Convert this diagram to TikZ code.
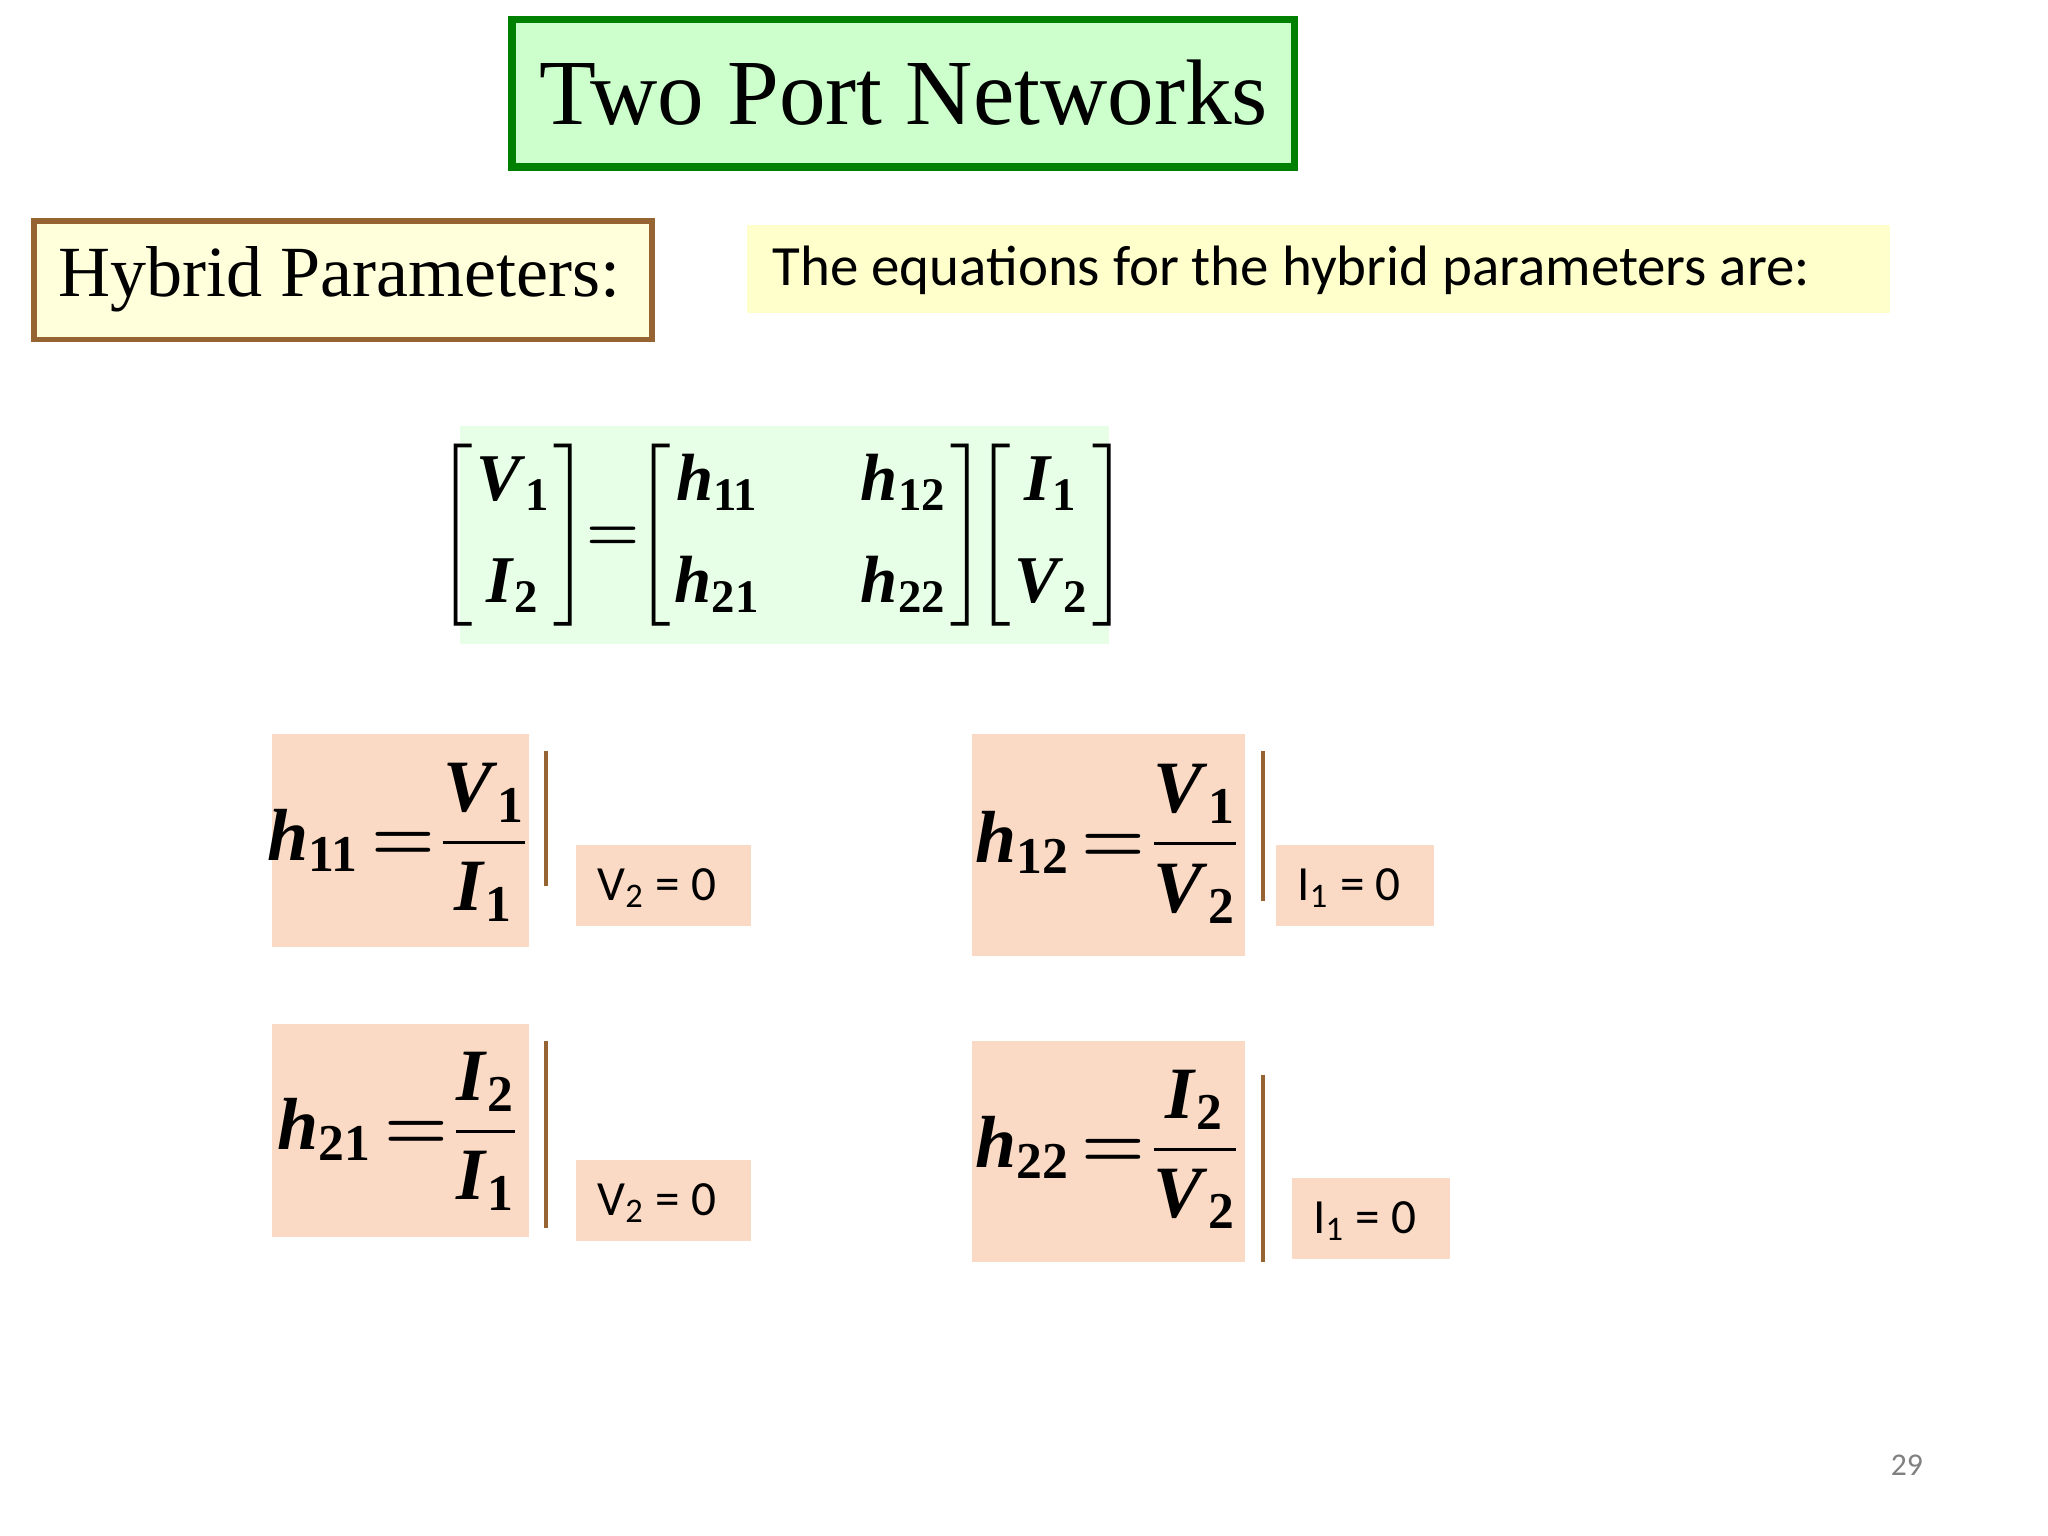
\documentclass[tikz,border=0pt]{standalone}
\usepackage{amsmath}
\usepackage{fontspec}
\setmainfont{Liberation Serif}
\newfontfamily\calfnt{Carlito}
\definecolor{tgreen}{RGB}{0,128,0}
\definecolor{tfill}{RGB}{204,255,204}
\definecolor{hbrown}{RGB}{150,100,50}
\definecolor{hfill}{RGB}{255,255,220}
\definecolor{ban}{RGB}{255,255,204}
\definecolor{mfill}{RGB}{230,255,230}
\definecolor{peach}{RGB}{250,218,196}
\newcommand{\bi}[1]{\textbf{\textit{#1}}}
\newcommand{\bsub}[1]{_{\textbf{#1}}}
\newcommand{\beq}{\mkern3mu\mathord{\boldsymbol{=}}\mkern1mu}
\begin{document}
\begin{tikzpicture}[x=0.01306cm,y=-0.01306cm,
  pbox/.style={fill=peach,draw=none},
  cond/.style={fill=peach,draw=none},
  bar/.style={draw=hbrown,line width=1.3pt},
  ctext/.style={font=\calfnt\fontsize{14}{16}\selectfont,anchor=center},
  eq/.style={font=\fontsize{21}{25}\selectfont,anchor=center}]
\useasboundingbox (0,0) rectangle (1568,1176);
\fill[white] (0,0) rectangle (1568,1176);
% title
\draw[tgreen,fill=tfill,line width=2.2pt] (392,15) rectangle (991,128);
\node[font=\fontsize{26.5}{31}\selectfont] (title) at (692,71) {Two Port Networks};
% hybrid
\draw[hbrown,fill=hfill,line width=1.6pt] (26,169) rectangle (499,260);
\node[font=\fontsize{20.5}{24}\selectfont] (hyb) at (260,214) {Hybrid Parameters:};
% banner
\fill[ban] (572,172) rectangle (1447,240);
\node[font=\calfnt\fontsize{16.2}{19}\selectfont,anchor=west] (ban) at (582,207) {The equations for the hybrid parameters are:};
% matrix
\fill[mfill] (352,326) rectangle (849,493);
\node[eq,font=\fontsize{19}{23}\selectfont] (mat) at (599,410) {$\setlength{\arraycolsep}{1pt}\left[\begin{array}{c}\bi{V}\bsub{1}\\[6pt]\bi{I}\bsub{2}\end{array}\right]\mkern-6mu\boldsymbol{=}\mkern-6mu\left[\begin{array}{c@{\quad\;\;}c}\bi{h}\bsub{11}&\bi{h}\bsub{12}\\[6pt]\bi{h}\bsub{21}&\bi{h}\bsub{22}\end{array}\right]\mkern-6mu\left[\begin{array}{c}\bi{I}\bsub{1}\\[6pt]\bi{V}\bsub{2}\end{array}\right]$};
% h11
\fill[pbox] (208,562) rectangle (405,725);
\node[eq] (e11) at (305,645) {$\bi{h}\bsub{11}\beq\dfrac{\bi{V}\bsub{1}}{\bi{I}\bsub{1}}$};
\draw[bar] (418,575) -- (418,678);
\fill[cond] (441,647) rectangle (575,709);
\node[ctext] (c11) at (503,680) {V\textsubscript{2} = 0};
% h12
\fill[pbox] (744,562) rectangle (953,732);
\node[eq] (e12) at (848,646) {$\bi{h}\bsub{12}\beq\dfrac{\bi{V}\bsub{1}}{\bi{V}\bsub{2}}$};
\draw[bar] (967,575) -- (967,690);
\fill[cond] (977,647) rectangle (1098,709);
\node[ctext] (c12) at (1033,680) {I\textsubscript{1} = 0};
% h21
\fill[pbox] (208,784) rectangle (405,947);
\node[eq] (e21) at (305,866) {$\bi{h}\bsub{21}\beq\dfrac{\bi{I}\bsub{2}}{\bi{I}\bsub{1}}$};
\draw[bar] (418,797) -- (418,940);
\fill[cond] (441,888) rectangle (575,950);
\node[ctext] (c21) at (503,921) {V\textsubscript{2} = 0};
% h22
\fill[pbox] (744,797) rectangle (953,966);
\node[eq] (e22) at (848,880) {$\bi{h}\bsub{22}\beq\dfrac{\bi{I}\bsub{2}}{\bi{V}\bsub{2}}$};
\draw[bar] (967,823) -- (967,966);
\fill[cond] (989,902) rectangle (1110,964);
\node[ctext] (c22) at (1045,935) {I\textsubscript{1} = 0};
% page
\node[font=\calfnt\fontsize{9}{11}\selectfont,text=gray] (pg) at (1460,1122) {29};
\end{tikzpicture}
\end{document}
